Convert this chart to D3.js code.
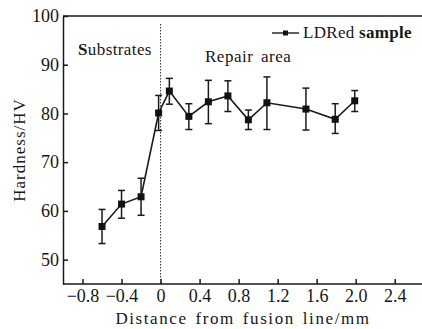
<!DOCTYPE html>
<html lang="en">
<head>
<meta charset="utf-8">
<title>hardness profile</title>
<script src="https://cdn.jsdelivr.net/npm/d3@7"></script>
<style>
  body { margin: 0; background: #fff; }
  text { font-family: "Liberation Serif", "Times New Roman", serif; fill: #161616; }
  .axis path, .axis line { stroke: #1a1a1a; stroke-width: 1.5px; }
  .axis text { font-size: 18px; }
</style>
</head>
<body>
<div id="chart"></div>
<script>

// hardness values
var distance = [-0.6, -0.4, -0.2, -0.02, 0.09, 0.29, 0.49, 0.69, 0.9, 1.09, 1.49, 1.79, 1.99];
var hardness = [56.8, 61.4, 62.9, 80.1, 84.6, 79.4, 82.4, 83.6, 78.7, 82.2, 80.9, 78.8, 82.6];
var errUpper = [60.3, 64.2, 66.7, 83.7, 87.2, 82.0, 86.8, 86.7, 80.7, 87.5, 85.2, 82.0, 84.7];
var errLower = [53.3, 58.5, 59.1, 76.5, 81.9, 76.7, 77.9, 80.4, 76.7, 76.7, 76.6, 75.9, 80.4];

var xTicks = [-0.8, -0.4, 0, 0.4, 0.8, 1.2, 1.6, 2.0, 2.4];
var yTicks = [50, 60, 70, 80, 90, 100];

// canvas
var width = 422, height = 329;
var margin = {top: 16, right: 0, bottom: 45, left: 63};
var serif = "Liberation Serif, Times New Roman, serif";

var x = d3.scaleLinear()
    .domain([-1.0, 2.7])
    .range([margin.left, 424]);

var y = d3.scaleLinear()
    .domain([45, 100])
    .range([height - margin.bottom, margin.top]);

var svg = d3.select("#chart")
    .append("svg")
    .attr("width", width)
    .attr("height", height);

var points = distance.map(function(d, i) {
    return {x: d, y: hardness[i], hi: errUpper[i], lo: errLower[i]};
});

// top border
svg.append("line")
    .attr("x1", x(-1.0)).attr("x2", width)
    .attr("y1", y(100)).attr("y2", y(100))
    .attr("stroke", "#1a1a1a")
    .attr("stroke-width", 1.5);

// fusion line
svg.append("line")
    .attr("x1", x(0)).attr("x2", x(0))
    .attr("y1", 24).attr("y2", y(45))
    .attr("stroke", "#333")
    .attr("stroke-width", 1)
    .attr("stroke-dasharray", "1.5,1.5");

// axes
var fmt = function(d) { return d === 0 ? "0" : d3.format(".1f")(d); };

svg.append("g")
    .attr("class", "axis")
    .attr("font-family", serif)
    .attr("font-size", 18)
    .attr("transform", "translate(0," + y(45) + ")")
    .call(d3.axisBottom(x).tickValues(xTicks).tickFormat(fmt)
        .tickSizeInner(-5).tickSizeOuter(0).tickPadding(5))
    .select(".domain").attr("d", "M" + x(-1.0) + ",0H" + width);

svg.append("g")
    .attr("class", "axis")
    .attr("font-family", serif)
    .attr("font-size", 18)
    .attr("transform", "translate(" + x(-1.0) + ",0)")
    .call(d3.axisLeft(y).tickValues(yTicks)
        .tickSizeInner(-5).tickSizeOuter(0).tickPadding(4));

// error bars
var bars = svg.selectAll(".err")
    .data(points)
    .enter()
    .append("g")
    .attr("class", "err")
    .attr("stroke", "#1a1a1a")
    .attr("stroke-width", 1.5);

bars.append("line")
    .attr("x1", function(d) { return x(d.x); })
    .attr("x2", function(d) { return x(d.x); })
    .attr("y1", function(d) { return y(d.hi); })
    .attr("y2", function(d) { return y(d.lo); });

bars.append("line")
    .attr("x1", function(d) { return x(d.x) - 3.5; })
    .attr("x2", function(d) { return x(d.x) + 3.5; })
    .attr("y1", function(d) { return y(d.hi); })
    .attr("y2", function(d) { return y(d.hi); });

bars.append("line")
    .attr("x1", function(d) { return x(d.x) - 3.5; })
    .attr("x2", function(d) { return x(d.x) + 3.5; })
    .attr("y1", function(d) { return y(d.lo); })
    .attr("y2", function(d) { return y(d.lo); });

// line + markers
var line = d3.line()
    .x(function(d) { return x(d.x); })
    .y(function(d) { return y(d.y); });

svg.append("path")
    .datum(points)
    .attr("d", line)
    .attr("fill", "none")
    .attr("stroke", "#1a1a1a")
    .attr("stroke-width", 1.6);

svg.selectAll(".mark")
    .data(points)
    .enter()
    .append("rect")
    .attr("class", "mark")
    .attr("x", function(d) { return x(d.x) - 3.5; })
    .attr("y", function(d) { return y(d.y) - 3.5; })
    .attr("width", 7)
    .attr("height", 7)
    .attr("fill", "#111");

// region labels
var sub = svg.append("text")
    .attr("x", 78).attr("y", 55)
    .attr("font-family", serif)
    .style("font-size", "17px")
    .style("letter-spacing", "0.4px");
sub.append("tspan").style("font-weight", "bold").text("S");
sub.append("tspan").text("ubstrates");

svg.append("text")
    .attr("x", 205).attr("y", 62)
    .attr("font-family", serif)
    .style("font-size", "17px")
    .style("letter-spacing", "0.5px")
    .style("word-spacing", "3px")
    .text("Repair area");

// legend
svg.append("line")
    .attr("x1", 272).attr("x2", 299)
    .attr("y1", 33).attr("y2", 33)
    .attr("stroke", "#1a1a1a")
    .attr("stroke-width", 1.4);

svg.append("rect")
    .attr("x", 283).attr("y", 30.5)
    .attr("width", 5).attr("height", 5)
    .attr("fill", "#111");

var leg = svg.append("text")
    .attr("x", 303).attr("y", 38)
    .attr("font-family", serif)
    .style("font-size", "17px")
    .style("letter-spacing", "0.3px");
leg.append("tspan").text("LDRed ");
leg.append("tspan").style("font-weight", "bold").text("sample");

// axis titles
svg.append("text")
    .attr("x", 243).attr("y", 324)
    .attr("text-anchor", "middle")
    .attr("font-family", serif)
    .style("font-size", "17px")
    .style("letter-spacing", "1.6px")
    .style("word-spacing", "2px")
    .text("Distance from fusion line/mm");

svg.append("text")
    .attr("transform", "translate(25,150) rotate(-90)")
    .attr("text-anchor", "middle")
    .attr("font-family", serif)
    .style("font-size", "17px")
    .style("letter-spacing", "1px")
    .text("Hardness/HV");

</script>
</body>
</html>
